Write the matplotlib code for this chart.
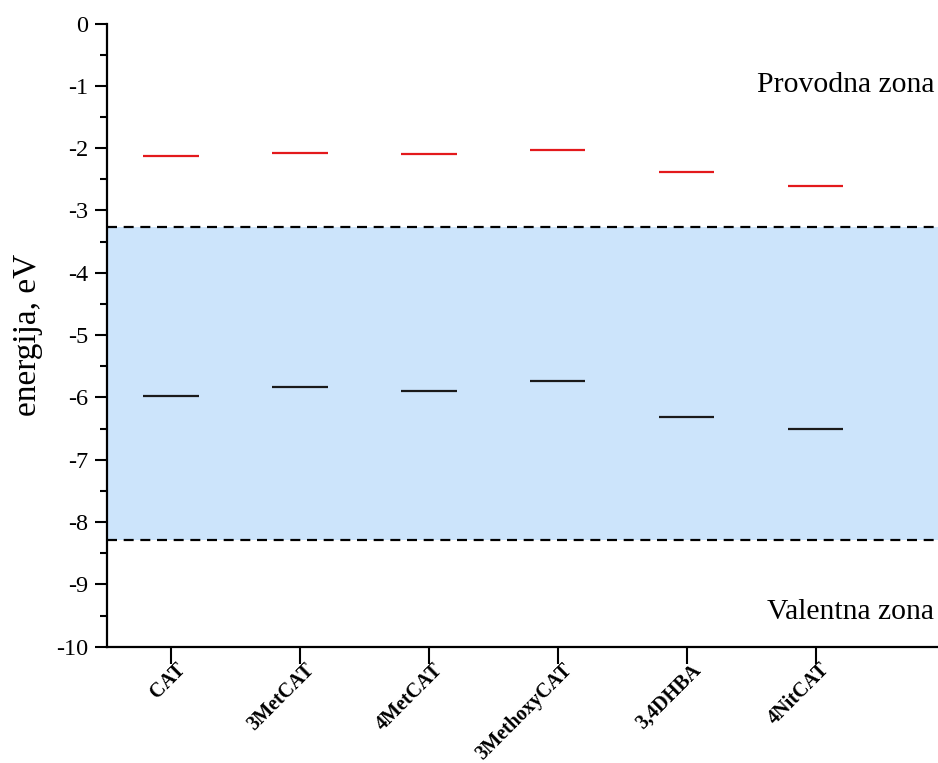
import numpy as np
import matplotlib.pyplot as plt
import matplotlib.transforms as mtransforms
from matplotlib.ticker import MultipleLocator

molecules = ["CAT", "3MetCAT", "4MetCAT", "3MethoxyCAT", "3,4DHBA", "4NitCAT"]
lumo = [-2.12, -2.08, -2.10, -2.03, -2.38, -2.61]
homo = [-5.98, -5.84, -5.89, -5.74, -6.31, -6.51]
cb_edge = -3.26
vb_edge = -8.28

plt.rcParams['font.family'] = ['Liberation Serif', 'DejaVu Serif']

fig = plt.figure(figsize=(9.38, 7.63), dpi=100)
ax = fig.add_axes([0.1137, 0.1524, 0.8863, 0.8168])

x = np.arange(1, len(molecules) + 1)
hw = 0.215

# band gap of the semiconductor
ax.axhspan(vb_edge, cb_edge, color='#cce4fb', lw=0, zorder=0)
for e in (cb_edge, vb_edge):
    ax.axhline(e, color='black', lw=1.6, dashes=(4.5, 3), zorder=1)

ax.hlines(lumo, x - hw, x + hw, color='#e3191c', lw=1.6, zorder=2)
ax.hlines(homo, x - hw, x + hw, color='#1a1a1a', lw=1.6, zorder=2)

ax.set_xlim(0.5, 6.95)
ax.set_ylim(-10, 0)
ax.set_xticks(x)
ax.set_xticklabels([])
# rotated molecule names, top-right corner just right of each tick
lab_tr = ax.get_xaxis_transform() + mtransforms.ScaledTranslation(
    0.04, -0.13, fig.dpi_scale_trans)
for xi, name in zip(x, molecules):
    ax.text(xi, 0, name, transform=lab_tr, rotation=45, rotation_mode='anchor',
            ha='right', va='top', fontsize=14.5, fontweight='bold')

ax.yaxis.set_minor_locator(MultipleLocator(0.5))
ax.set_yticks(np.arange(-10, 1, 1))
ax.set_yticklabels([str(v) for v in range(-10, 1)], fontsize=17.5)
ax.tick_params(axis='y', which='major', direction='out', length=9, width=1.5, pad=4)
ax.tick_params(axis='y', which='minor', direction='out', length=5, width=1.5)
ax.tick_params(axis='x', direction='out', length=12, width=1.5)

ax.set_ylabel('energija, eV', fontsize=24, labelpad=10)

for s in ('top', 'right'):
    ax.spines[s].set_visible(False)
for s in ('left', 'bottom'):
    ax.spines[s].set_linewidth(1.6)

ax.text(6.92, -0.98, 'Provodna zona', fontsize=21.3, ha='right', va='center')
ax.text(6.92, -9.45, 'Valentna zona', fontsize=21.3, ha='right', va='center')

fig.savefig('out.png', dpi=100)
